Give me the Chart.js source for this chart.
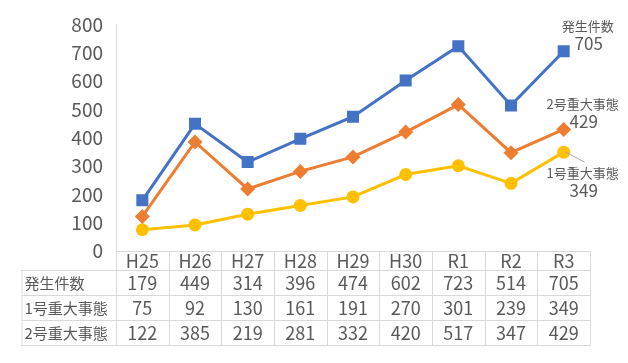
<!DOCTYPE html>
<html lang="ja">
<head>
<meta charset="UTF-8">
<title>重大事態の発生件数</title>
<script src="https://cdn.jsdelivr.net/npm/chart.js@4.4.1/dist/chart.umd.min.js"></script>
<style>
  html, body { margin: 0; padding: 0; background: #ffffff; }
  #wrap { width: 628px; height: 363px; }
</style>
</head>
<body>
<div id="wrap"><canvas id="chart" width="628" height="363"></canvas></div>
<script>
// data
const categories = ['H25', 'H26', 'H27', 'H28', 'H29', 'H30', 'R1', 'R2', 'R3'];
const seriesNames = ['発生件数', '1号重大事態', '2号重大事態'];
const occurrences = [179, 449, 314, 396, 474, 602, 723, 514, 705];
const type1Cases = [75, 92, 130, 161, 191, 270, 301, 239, 349];
const type2Cases = [122, 385, 219, 281, 332, 420, 517, 347, 429];
const yMin = 0, yMax = 800, yStep = 100;

const FONT = '"Noto Sans CJK JP", "Noto Sans", sans-serif';
const TEXT = '#595959';
const GRID = '#d9d9d9';
const colors = ['#4472C4', '#FFC000', '#ED7D31'];
const tableRows = [occurrences, type1Cases, type2Cases];

// table below the plot + end labels
const tablePlugin = {
  id: 'dataTable',
  afterDraw(chart) {
    const ctx = chart.ctx;
    const area = chart.chartArea;
    const x = chart.scales.x;
    const colW = (area.right - area.left) / categories.length;
    const labelLeft = 21.5;
    const rowTops = [area.bottom, 270, 295, 320, 345];

    ctx.save();
    ctx.strokeStyle = GRID;
    ctx.lineWidth = 1;
    ctx.beginPath();
    // horizontal lines
    ctx.moveTo(area.left, rowTops[0] + 0.5);
    ctx.lineTo(area.right, rowTops[0] + 0.5);
    for (let r = 1; r < rowTops.length; r++) {
      ctx.moveTo(labelLeft, rowTops[r] + 0.5);
      ctx.lineTo(area.right, rowTops[r] + 0.5);
    }
    // vertical lines
    for (let i = 0; i <= categories.length; i++) {
      const vx = Math.round(area.left + i * colW) + 0.5;
      ctx.moveTo(vx, rowTops[0]);
      ctx.lineTo(vx, rowTops[4] + 0.5);
    }
    ctx.moveTo(labelLeft + 0.5, rowTops[1]);
    ctx.lineTo(labelLeft + 0.5, rowTops[4] + 0.5);
    ctx.stroke();

    ctx.fillStyle = TEXT;
    ctx.textBaseline = 'middle';
    ctx.textAlign = 'center';
    ctx.font = '18px ' + FONT;
    categories.forEach((c, i) => {
      ctx.fillText(c, x.getPixelForValue(i), (rowTops[0] + rowTops[1]) / 2 + 1);
    });
    tableRows.forEach((vals, r) => {
      const cy = (rowTops[r + 1] + rowTops[r + 2]) / 2 + 1;
      ctx.textAlign = 'left';
      ctx.font = '15px ' + FONT;
      ctx.fillText(seriesNames[r], labelLeft + 3, cy);
      ctx.textAlign = 'center';
      ctx.font = '18px ' + FONT;
      vals.forEach((v, i) => ctx.fillText(String(v), x.getPixelForValue(i), cy));
    });

    // labels at the end of each line
    const last = categories.length - 1;
    const y = chart.scales.y;
    const px = x.getPixelForValue(last);
    const ends = [
      { name: seriesNames[0], val: occurrences[last], dx: 24, dy: -25 },
      { name: seriesNames[2], val: type2Cases[last], dx: 19, dy: -25 },
      { name: seriesNames[1], val: type1Cases[last], dx: 19, dy: 21 }
    ];
    ends.forEach(e => {
      const py = y.getPixelForValue(e.val);
      ctx.font = '13px ' + FONT;
      ctx.fillText(e.name, px + e.dx, py + e.dy);
      ctx.font = '17px ' + FONT;
      ctx.fillText(String(e.val), px + e.dx + 1, py + e.dy + 17);
    });
    // leader line for 1号
    const py1 = y.getPixelForValue(type1Cases[last]);
    ctx.strokeStyle = '#a6a6a6';
    ctx.beginPath();
    ctx.moveTo(px + 2, py1);
    ctx.lineTo(px + 21, py1 + 10);
    ctx.stroke();
    ctx.restore();
  }
};

new Chart(document.getElementById('chart'), {
  type: 'line',
  data: {
    labels: categories,
    datasets: [
      {
        label: seriesNames[0], data: occurrences, order: 2,
        borderColor: colors[0], backgroundColor: colors[0], borderWidth: 3,
        pointStyle: 'rect', pointRadius: 8.5, pointBorderWidth: 0
      },
      {
        label: seriesNames[1], data: type1Cases, order: 3,
        borderColor: colors[1], backgroundColor: colors[1], borderWidth: 3,
        pointStyle: 'circle', pointRadius: 6.5, pointBorderWidth: 0
      },
      {
        label: seriesNames[2], data: type2Cases, order: 1,
        borderColor: colors[2], backgroundColor: colors[2], borderWidth: 3,
        pointStyle: 'rectRot', pointRadius: 7.5, pointBorderWidth: 0
      }
    ]
  },
  options: {
    responsive: false,
    animation: false,
    layout: { padding: { left: 0, right: 38, top: 24, bottom: 112 } },
    plugins: { legend: { display: false }, tooltip: { enabled: false } },
    scales: {
      x: {
        display: false,
        offset: true
      },
      y: {
        min: yMin, max: yMax,
        grid: { display: false, drawTicks: false },
        border: { display: true, color: GRID, width: 1 },
        ticks: {
          stepSize: yStep, padding: 13, color: TEXT,
          font: { size: 19, family: FONT }
        },
        afterFit(scale) { scale.width = 116; }
      }
    }
  },
  plugins: [tablePlugin]
});
</script>
</body>
</html>
